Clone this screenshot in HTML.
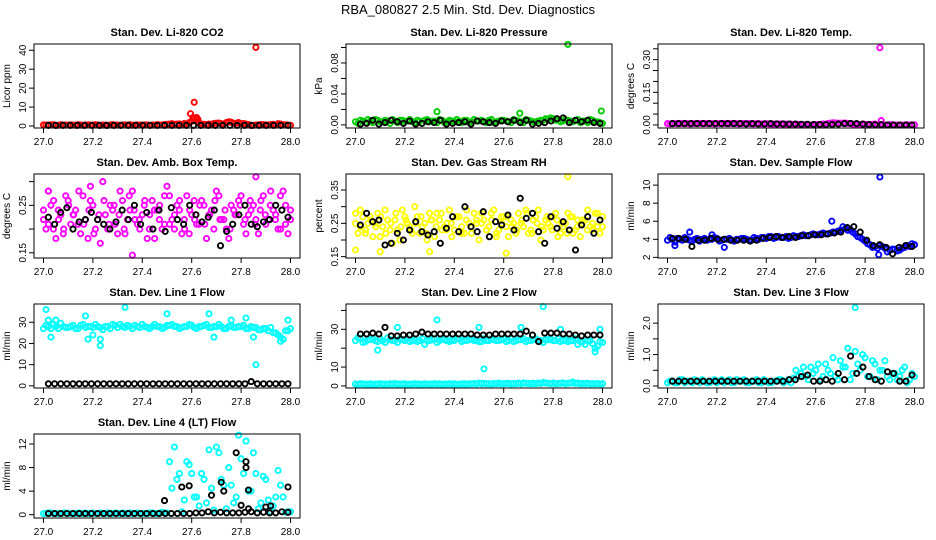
<!DOCTYPE html>
<html><head><meta charset="utf-8"><style>
body{margin:0;background:#fff;}
svg{display:block;font-family:"Liberation Sans",sans-serif;}
</style></head><body>
<svg id="chart" width="936" height="540" viewBox="0 0 936 540">
<rect width="936" height="540" fill="#fff"/>
<text x="468" y="14" text-anchor="middle" font-size="13">RBA_080827  2.5 Min. Std. Dev. Diagnostics</text>
</svg>
<script>
const xTicks=[27.0,27.2,27.4,27.6,27.8,28.0];
const xTickLabels=["27.0","27.2","27.4","27.6","27.8","28.0"];
// Panel 1 CO2
const p1A=[0.6,0.5,0.7,0.4,0.6,0.5,0.5,0.7,0.4,0.6,0.5,0.6,0.5,0.4,0.7,0.5,0.6,0.5,0.4,0.6,0.5,0.6,0.5,0.7,0.5,0.9,1.2,1.0,0.8,0.9,2.5,3.5,1.0,0.8,0.9,1.5,1.2,1.8,2.0,1.5,1.2,1.0,0.3,0.5,0.8,0.6,0.7,0.5,1.0,0.6,0.4];
const p1B=[0.5,0.6,0.4,0.7,0.5,0.6,0.4,0.5,0.6,0.5,0.7,0.4,0.5,0.6,0.5,0.4,0.6,0.7,0.5,0.5,0.6,0.4,0.5,0.6,0.8,1.0,0.9,1.1,1.3,1.8,4.0,1.5,0.9,1.0,1.3,1.6,1.1,2.2,1.4,1.8,1.3,0.8,0.4,0.6,0.7,0.5,0.9,1.2,0.7,0.5];
const p1K=[0.3,0.3,0.3,0.3,0.3,0.3,0.3,0.3,0.3,0.3,0.3,0.3,0.3,0.3,0.3,0.3,0.3,0.3,0.3,0.3,0.3,0.3,0.3,0.3,0.3,0.3,0.3,0.3,0.3,0.3,0.3,0.3,0.3,0.3];
const p1OX=[27.595,27.605,27.61,27.62,27.625,27.86];
const p1OY=[6.5,4.5,12.5,4.5,3.5,41.5];
// Panel 2 Pressure
const p2A=[.004,.006,.003,.005,.007,.004,.006,.002,.005,.006,.004,.007,.003,.005,.006,.004,.005,.007,.003,.006,.004,.005,.006,.003,.007,.005,.004,.006,.003,.005,.006,.004,.007,.005,.003,.006,.004,.005,.006,.007,.008,.007,.005,.006,.004,.007,.005,.003,.006,.004,.002];
const p2B=[.002,.005,.007,.003,.006,.004,.005,.007,.003,.006,.005,.004,.006,.002,.007,.005,.003,.006,.004,.005,.007,.003,.006,.004,.005,.006,.003,.007,.004,.006,.005,.003,.006,.004,.007,.005,.004,.006,.008,.009,.006,.004,.007,.005,.006,.003,.005,.007,.004,.003];
const p2K=[.001,.002,.006,.001,.003,.006,.004,.002,.005,.001,.002,.004,.003,.006,.001,.002,.003,.004,.001,.005,.004,.003,.002,.005,.004,.006,.003,.006,.001,.002,.003,.005,.008,.009,.003,.006,.004,.006,.003,.002];
const p2OX=[27.33,27.665,27.86,27.995];
const p2OY=[0.017,0.015,0.104,0.018];
// Panel 3 Temp
const p3A=[.006,.007,.006,.006,.007,.006,.006,.006,.007,.006,.006,.006,.006,.007,.006,.006,.006,.006,.006,.005,.006,.005,.005,.005,.004,.004,.003,.002,.001,.000,.002,.001,.003,.008,.009,.008,.009,.007,.004,.002,.003,.002,.004,.001,.000,.001,.000,.000,.000,.000,.001];
const p3B=[.005,.006,.007,.006,.005,.006,.007,.006,.006,.005,.006,.007,.006,.006,.005,.006,.006,.005,.006,.005,.005,.004,.005,.004,.003,.002,.003,.001,.000,.001,.002,.005,.007,.010,.008,.008,.006,.003,.002,.004,.001,.003,.000,.001,.000,.001,.000,.000,.001,.000];
const p3K=[.006,.006,.006,.006,.006,.006,.006,.006,.006,.006,.006,.006,.005,.006,.005,.005,.006,.005,.005,.004,.004,.003,.003,.002,.002,.001,.002,.004,.006,.007,.006,.004,.002,.001,.001,.000,.000,.000,.000,.000];
const p3OX=[27.86,27.865];
const p3OY=[0.355,0.02];
// Panel 4 Amb box temp
const p4A=[.22,.28,.20,.24,.19,.26,.23,.21,.27,.18,.25,.22,.30,.20,.24,.19,.26,.22,.28,.21,.23,.18,.26,.24,.20,.29,.22,.25,.19,.27,.23,.21,.26,.18,.24,.28,.22,.20,.25,.23,.27,.19,.24,.22,.26,.21,.28,.23,.20,.25,.22];
const p4B=[.20,.25,.18,.23,.27,.21,.24,.19,.22,.26,.20,.17,.23,.25,.21,.28,.19,.24,.22,.20,.26,.23,.18,.25,.21,.27,.20,.24,.22,.19,.26,.21,.25,.23,.20,.27,.22,.18,.24,.26,.21,.23,.25,.19,.27,.22,.24,.20,.28,.19];
const p4C=[.24,.21,.26,.22,.20,.25,.23,.28,.21,.24,.19,.23,.26,.21,.25,.23,.20,.27,.24,.22,.25,.20,.24,.22,.27,.21,.23,.26,.20,.24,.22,.25,.21,.23,.26,.22,.24,.20,.23,.25,.22,.26,.21,.24,.23,.25,.22,.27,.21,.24];
const p4K=[.225,.21,.235,.245,.20,.215,.22,.235,.22,.21,.20,.215,.24,.22,.25,.21,.235,.20,.24,.195,.245,.22,.21,.25,.23,.215,.225,.24,.165,.195,.21,.23,.25,.21,.205,.215,.22,.25,.24,.225];
const p4OX=[27.86,27.36,27.02,27.19];
const p4OY=[0.31,0.145,0.28,0.29];
// Panel 5 RH
const p5A=[.28,.24,.22,.27,.25,.21,.29,.23,.26,.20,.27,.24,.30,.22,.25,.28,.21,.26,.24,.29,.23,.27,.22,.25,.28,.20,.26,.24,.29,.23,.27,.21,.25,.28,.24,.22,.26,.29,.23,.25,.27,.21,.24,.28,.22,.26,.25,.29,.23,.24,.27];
const p5B=[.22,.27,.25,.21,.28,.24,.26,.19,.23,.29,.25,.22,.27,.24,.20,.26,.28,.23,.25,.21,.27,.24,.29,.22,.26,.25,.23,.28,.21,.27,.24,.26,.22,.25,.29,.23,.27,.20,.26,.24,.28,.22,.25,.27,.23,.21,.26,.24,.28,.22];
const p5C=[.25,.29,.23,.26,.24,.27,.22,.25,.28,.24,.26,.23,.25,.27,.22,.26,.24,.28,.23,.25,.27,.22,.26,.24,.25,.28,.23,.26,.22,.25,.27,.24,.23,.26,.28,.22,.25,.24,.27,.23,.26,.25,.22,.27,.24,.26,.23,.25,.28,.24];
const p5K=[.245,.28,.255,.26,.185,.19,.22,.20,.23,.255,.225,.215,.225,.19,.235,.27,.225,.30,.24,.225,.285,.21,.255,.245,.275,.23,.325,.265,.28,.225,.19,.27,.235,.255,.23,.17,.245,.27,.22,.26];
const p5OX=[27.86,27.61,27.0,27.3,27.1];
const p5OY=[0.39,0.16,0.17,0.165,0.165];
// Panel 6 Sample flow
const p6A=[3.9,4.0,4.1,3.9,4.0,3.8,4.1,4.0,3.9,4.0,4.1,3.9,4.0,3.9,4.0,4.1,4.0,3.9,4.1,4.2,4.1,4.3,4.2,4.2,4.3,4.2,4.3,4.4,4.4,4.5,4.5,4.6,4.6,4.7,4.8,5.0,5.2,5.1,4.6,4.2,3.8,3.4,3.2,3.3,3.0,2.8,2.9,2.8,3.1,3.2,3.4];
const p6B=[4.2,3.7,4.0,4.2,3.9,4.0,3.8,4.1,4.0,4.2,3.8,4.0,4.1,3.8,4.0,4.1,3.9,4.2,4.0,4.2,4.3,4.1,4.3,4.2,4.1,4.4,4.3,4.5,4.4,4.6,4.5,4.7,4.6,4.8,4.9,5.4,5.0,4.8,4.3,4.0,3.5,3.1,3.0,3.2,2.6,2.9,2.7,3.0,3.3,3.5];
const p6K=[4.1,4.1,4.0,3.2,3.9,3.9,4.1,4.0,4.0,3.9,3.9,3.9,3.8,3.9,4.1,4.2,4.3,4.2,4.3,4.2,4.4,4.4,4.5,4.5,4.6,4.7,4.8,5.3,5.4,4.8,3.9,3.3,3.4,3.1,2.4,3.1,3.3,3.2];
const p6OX=[27.86,27.665,27.09,27.18,27.23,27.03,27.855];
const p6OY=[10.9,6.0,4.8,4.5,3.1,3.3,2.3];
// Panel 7 Line 1
const p7A=[27,28,29,27,28,27.5,28.5,27,29,28,27.5,28,26.5,28,29,27.5,28,28.5,27,28,29,27.5,28,28,27,28.5,29,28,27.5,28,28.5,27,28,29,27.5,28,28,27,28.5,27.5,28,27,28,27.5,26.5,27,27.5,25,23,26,27];
const p7B=[28.5,27,28,29.5,27.5,28,27,28.5,27.5,28,29,27.5,28,27,28.5,29,27.5,28,28.5,27.5,28,27,29,28,27.5,28.5,28,27,28,29,27.5,28,28.5,27.5,28,29,27,28,27.5,28,28.5,27,27.5,26.5,27,26,25,24,22,26];
const p7K=[1,1,1,1,1,1,1,1,1,1,1,1,1,1,1,1,1,1,1,1,1,1,1,1,1,1,1,1,1,1,1,1,1,2,1,1,1,1,1,1];
const p7OX=[27.01,27.02,27.03,27.05,27.17,27.18,27.2,27.23,27.23,27.33,27.5,27.67,27.69,27.76,27.82,27.85,27.86,27.99,27.97,27.96];
const p7OY=[36,31,23,31,33,22,24,22,19,37,34,34,23,31,32,23,10,31,22,21];
// Panel 8 Line 2
const p8A=[24,25,23.5,24.5,24,25,23,24.5,24,25,24,23.5,24.5,24,22,24,25,24,24.5,23.5,24,25,24,24.5,24,23.5,25,24,24.5,24,25,24,23.5,24.5,25,24,24.5,24,23,24.5,24,25,24,23.5,24,22,23.5,24,22.5,21,23];
const p8B=[25.5,23,24.5,25,23.5,24,25.5,24,23,24.5,25,24,23.5,25,24,24.5,23,25,24,24.5,25,23.5,24,25,24.5,23.5,24,25,24,24.5,23.5,25,24,24.5,23.5,24,25,24,24.5,25,24,23.5,24.5,24,25,23.5,22,24,20,23.5];
const p8L=[1,1.2,1,1.1,1,1.2,1,1.1,1.3,1,1.1,1,1.2,1,1.1,1,1.2,1.1,1,1.2,1.1,1,1.2,1.1,1.3,1.5,1.4,1.2,1.3,1.5,1.2,1.4,1.3,1.5,1.6,1.3,1.4,1.5,1.8,1.4,1.5,1.3,1.6,1.4,2,1.5,1.3,1.4,1.2,1.3,1.2];
const p8L2=[0.8,1.0,0.9,0.8,1.0,0.9,0.8,1.0,0.9,1.0,0.8,0.9,1.0,0.8,0.9,1.0,0.9,0.8,1.0,0.9,0.8,1.0,0.9,1.1,1.0,1.2,1.1,1.0,1.2,1.1,1.3,1.0,1.2,1.1,1.4,1.2,1.1,1.3,1.6,1.2,1.1,1.4,1.2,1.5,1.3,1.1,1.2,1.0,1.1,1.0];
const p8K=[27.5,27.5,28,27.5,31,26.5,26.5,27,27,27.5,28.5,27.5,27.5,27.5,27.5,27.5,27.5,27.5,27.5,27,27,27,27.5,27.5,27.5,27.5,27.5,29,27,23.5,28,28,28,27.5,27.5,27,26.5,27,27,27];
const p8OX=[27.17,27.09,27.33,27.5,27.52,27.76,27.83,27.97,27.99,27.67];
const p8OY=[31,19,35,31,9,42,30,18,30,31];
// Panel 9 Line 3
const p9A=[0.1,0.15,0.1,0.2,0.15,0.1,0.15,0.2,0.1,0.15,0.1,0.2,0.15,0.1,0.2,0.15,0.1,0.15,0.2,0.1,0.15,0.1,0.15,0.2,0.15,0.1,0.5,0.4,0.3,0.6,0.5,0.2,0.7,0.4,0.3,0.8,0.6,0.2,1.1,0.5,0.9,0.3,0.7,0.5,0.8,0.2,0.4,0.3,0.6,0.2,0.3];
const p9B=[0.15,0.1,0.2,0.1,0.15,0.2,0.1,0.15,0.1,0.2,0.15,0.1,0.2,0.1,0.15,0.2,0.1,0.15,0.1,0.2,0.1,0.15,0.2,0.1,0.2,0.25,0.3,0.6,0.2,0.4,0.7,0.3,0.5,0.9,0.2,0.6,1.2,0.4,0.7,1.0,0.3,0.8,0.2,0.5,0.3,0.4,0.2,0.5,0.1,0.4];
const p9K=[0.15,0.15,0.15,0.15,0.15,0.15,0.15,0.15,0.15,0.15,0.15,0.15,0.15,0.15,0.15,0.15,0.15,0.15,0.15,0.2,0.2,0.3,0.35,0.15,0.15,0.2,0.15,0.4,0.2,0.95,0.4,0.6,0.3,0.2,0.15,0.45,0.4,0.15,0.15,0.35];
const p9OX=[27.76];
const p9OY=[2.5];
// Panel 10 Line 4
const p10A=[0.2,0.3,0.2,0.2,0.3,0.2,0.2,0.3,0.2,0.2,0.3,0.2,0.2,0.3,0.2,0.2,0.3,0.2,0.2,0.3,0.2,0.2,0.3,0.2,0.4,0.3,4.5,6,0.5,9,7,3,7,2,4.5,11.5,6,1,5,3,9.5,12.5,4,7,2,6,0.5,3,5,0.4,0.5];
const p10B=[0.2,0.3,0.2,0.2,0.3,0.2,0.2,0.2,0.3,0.2,0.2,0.3,0.2,0.2,0.3,0.2,0.2,0.3,0.2,0.2,0.2,0.3,0.2,0.2,0.3,9,11.5,7,2.5,8.5,3,1.5,6,11,0.8,10.5,5,8,2,13.5,7,4,10.5,1,6.5,2.5,1.5,7.5,3,0.5];
const p10K=[0.2,0.2,0.2,0.2,0.2,0.2,0.2,0.2,0.2,0.2,0.2,0.2,0.2,0.2,0.2,0.2,0.2,0.2,0.2,0.2,0.2,0.2,0.2,0.2,0.3,0.3,0.5,0.3,0.4,0.3,0.3,0.3,0.4,0.5,0.3,0.4,0.3,0.3,0.5,0.4];
const p10OX=[27.49,27.56,27.59,27.73,27.78,27.82,27.82,27.83,27.80,27.83,27.90,27.92,27.99,27.68,27.72];
const p10OY=[2.4,4.7,4.9,4.0,10.5,9.0,8.0,4.2,1.6,1.0,1.3,1.5,4.7,3.3,5.5];

const panels=[
 {col:0,row:0,title:"Stan. Dev. Li-820 CO2",ylab:"Licor ppm",ylo:-1.05,yhi:43.3,ticks:[0,10,20,30,40],labels:["0","10","20","30","40"],col1:"#ff0000",cs:[p1A,p1B],k:p1K,ox:p1OX,oy:p1OY,kx:[],ky:[]},
 {col:1,row:0,title:"Stan. Dev. Li-820 Pressure",ylab:"kPa",ylo:-0.004,yhi:0.1045,ticks:[0,0.02,0.04,0.06,0.08,0.1],labels:["0.00","","0.04","","0.08",""],col1:"#00cc00",cs:[p2A,p2B],k:p2K,ox:p2OX,oy:p2OY,kx:[],ky:[]},
 {col:2,row:0,title:"Stan. Dev. Li-820 Temp.",ylab:"degrees C",ylo:-0.014,yhi:0.372,ticks:[0,0.05,0.1,0.15,0.2,0.25,0.3,0.35],labels:["0.00","","","0.15","","","0.30",""],col1:"#ff00ff",cs:[p3A,p3B],k:p3K,ox:p3OX,oy:p3OY,kx:[],ky:[]},
 {col:0,row:1,title:"Stan. Dev. Amb. Box Temp.",ylab:"degrees C",ylo:0.139,yhi:0.316,ticks:[0.15,0.2,0.25,0.3],labels:["0.15","","0.25",""],col1:"#ff00ff",cs:[p4A,p4B,p4C],k:p4K,ox:p4OX,oy:p4OY,kx:[],ky:[]},
 {col:1,row:1,title:"Stan. Dev. Gas Stream RH",ylab:"percent",ylo:0.146,yhi:0.398,ticks:[0.15,0.2,0.25,0.3,0.35],labels:["0.15","","0.25","","0.35"],col1:"#ffff00",cs:[p5A,p5B,p5C],k:p5K,ox:p5OX,oy:p5OY,kx:[],ky:[]},
 {col:2,row:1,title:"Stan. Dev. Sample Flow",ylab:"ml/min",ylo:1.93,yhi:11.23,ticks:[2,4,6,8,10],labels:["2","4","6","8","10"],col1:"#0000ff",cs:[p6A,p6B],k:p6K,ox:p6OX,oy:p6OY,kx:[],ky:[]},
 {col:0,row:2,title:"Stan. Dev. Line 1 Flow",ylab:"ml/min",ylo:-1,yhi:38.6,ticks:[0,10,20,30],labels:["0","10","20","30"],col1:"#00ffff",cs:[p7A,p7B],k:p7K,ox:p7OX,oy:p7OY,kx:[],ky:[]},
 {col:1,row:2,title:"Stan. Dev. Line 2 Flow",ylab:"ml/min",ylo:-1.1,yhi:43.4,ticks:[0,10,20,30,40],labels:["0","10","","30",""],col1:"#00ffff",cs:[p8A,p8B,p8L,p8L2],k:p8K,ox:p8OX,oy:p8OY,kx:[],ky:[]},
 {col:2,row:2,title:"Stan. Dev. Line 3 Flow",ylab:"ml/min",ylo:-0.065,yhi:2.61,ticks:[0,0.5,1,1.5,2],labels:["0.0","","1.0","","2.0"],col1:"#00ffff",cs:[p9A,p9B],k:p9K,ox:p9OX,oy:p9OY,kx:[],ky:[]},
 {col:0,row:3,title:"Stan. Dev. Line 4 (LT) Flow",ylab:"ml/min",ylo:-0.56,yhi:13.7,ticks:[0,4,8,12],labels:["0","4","8","12"],col1:"#00ffff",cs:[p10A,p10B],k:p10K,ox:[],oy:[],kx:p10OX,ky:p10OY}
];
const NS="http://www.w3.org/2000/svg";
const svg=document.getElementById('chart');
function mk(tag,attrs,parent){const e=document.createElementNS(NS,tag);for(const a in attrs)e.setAttribute(a,attrs[a]);parent.appendChild(e);return e;}
panels.forEach((p,pi)=>{
  const bx=34+p.col*312, by=44+p.row*130, bw=266, bh=84;
  const g=mk('g',{},svg);
  
  
  const xs=v=>bx+9.5+(v-27)*247;
  const ys=v=>by+bh-(v-p.ylo)/(p.yhi-p.ylo)*bh;
  const t=mk('text',{x:bx+bw/2,y:by-8,'text-anchor':'middle','font-size':'11','font-weight':'bold'},g);
  t.textContent=p.title;
  
  
  const pts=mk('g',{fill:'none','stroke-width':'1.9'},g);
  
  
  function dot(x,y,c){const e=mk('circle',{cx:xs(x).toFixed(1),cy:ys(y).toFixed(1),r:'2.6',stroke:c},pts);
    
    }
  p.cs.forEach((arr,ai)=>{const s=ai%2===0?27.0:27.01,e=ai%2===0?28.0:27.99;
    arr.forEach((v,i)=>dot(s+i*(e-s)/(arr.length-1),v,p.col1));});
  p.ox.forEach((x,i)=>dot(x,p.oy[i],p.col1));
  p.k.forEach((v,i)=>dot(27.02+i*(0.97)/(p.k.length-1),v,'#000'));
  p.kx.forEach((x,i)=>dot(x,p.ky[i],'#000'));
  const box=mk('rect',{x:bx,y:by,width:bw,height:bh,fill:'none',stroke:'#000','stroke-width':'1'},g);
  
  
  xTicks.forEach((v,i)=>{const x=xs(v);
    mk('line',{x1:x,x2:x,y1:by+bh,y2:by+bh+5,stroke:'#000'},g);
    const l=mk('text',{x:x,y:by+bh+17,'text-anchor':'middle','font-size':'10'},g);
    l.textContent=xTickLabels[i];
    
    });
  p.ticks.forEach((v,i)=>{const y=ys(v);
    mk('line',{x1:bx-5,x2:bx,y1:y,y2:y,stroke:'#000'},g);
    if(p.labels[i]){const l=mk('text',{x:0,y:0,'text-anchor':'middle','font-size':'10',transform:`translate(${bx-8},${y}) rotate(-90)`},g);
      l.textContent=p.labels[i];
      
      }});
  const yl=mk('text',{x:0,y:0,'text-anchor':'middle','font-size':'10',transform:`translate(${bx-24},${by+bh/2}) rotate(-90)`},g);
  yl.textContent=p.ylab;
  
  
});
</script>
</body></html>
